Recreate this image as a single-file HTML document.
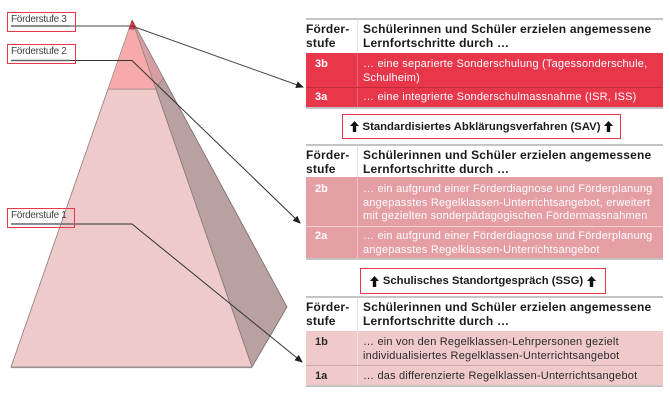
<!DOCTYPE html>
<html><head><meta charset="utf-8">
<style>
*{margin:0;padding:0;box-sizing:border-box}
body{width:670px;height:402px;background:#fff;position:relative;overflow:hidden;font-family:"Liberation Sans",Arial,sans-serif}
.abs{position:absolute}
.rule{position:absolute;left:306px;width:357px;height:2px;background:#c4c4c4}
.hdr{position:absolute;left:306px;width:357px;font-weight:bold;font-size:12px;letter-spacing:0.2px;line-height:13.5px;color:#1a1a1a}
.hdr .c1{position:absolute;left:0;top:4px;width:51px;white-space:nowrap}
.hdr .c2{position:absolute;left:57px;top:4px;white-space:nowrap}
.hdr .sep{position:absolute;left:51px;top:0;bottom:0;width:1px;background:#e2e2e2}
.row{position:absolute;left:306px;width:357px;font-size:11px;line-height:14px;letter-spacing:0.2px}
.row .n{position:absolute;left:9px;font-weight:bold;letter-spacing:0}
.row .t{position:absolute;left:57px;white-space:nowrap}
.row .sep{position:absolute;left:51px;top:0;bottom:0;width:1px}
.r3{background:#e8364b;color:#fff}
.r3 .sep{background:rgba(255,255,255,0.25)}
.r2{background:#e69ea5;color:#fff}
.r2 .sep{background:rgba(255,255,255,0.35)}
.r1{background:#f0caca;color:#2a2a2a}
.r1 .sep{background:rgba(255,255,255,0.5)}
.box{position:absolute;border:1.5px solid #e8364b;background:#fff;font-weight:bold;font-size:11.3px;color:#1a1a1a;white-space:nowrap;display:flex;align-items:center;justify-content:center}
.box svg{margin:0 4px}
.lbl{position:absolute;border:1.5px solid #e8364b;font-size:10px;letter-spacing:-0.3px;color:#444;padding-left:3px;line-height:14px}
</style></head><body>

<svg class="abs" style="left:0;top:0" width="670" height="402" viewBox="0 0 670 402">
<defs>
<marker id="ah" markerWidth="8" markerHeight="8" refX="7" refY="4" orient="auto" markerUnits="userSpaceOnUse">
<path d="M0,0.5 L8,4 L0,7.5 z" fill="#222"/>
</marker>
</defs>
<polygon points="132,20 287,307 252,367" fill="#b9a0a1" stroke="#7a6a6a" stroke-width="0.8"/>
<polygon points="132,20 163.3,78 155.9,89" fill="#d59ea2" stroke="#8a7070" stroke-width="0.6"/>
<polygon points="11,367 252,367 155.9,89 108,89" fill="#efcaca" stroke="#8a7a7a" stroke-width="0.8"/>
<polygon points="108,89 155.9,89 135.1,29 128.9,29" fill="#f7aaaa" stroke="#8a7a7a" stroke-width="0.6"/>
<polygon points="132,20 128.9,29 135.1,29" fill="#e8334a" stroke="#7a3a3a" stroke-width="0.5"/>
<polygon points="132,20 135.8,27 135.1,29" fill="#c42a3d"/>
<line x1="11" y1="367.5" x2="252" y2="367.5" stroke="#9a9090" stroke-width="1.3"/>
<polyline points="11,26 132,26 303,87" fill="none" stroke="#444" stroke-width="1" marker-end="url(#ah)"/>
<polyline points="11,60.5 132,60.5 300,223" fill="none" stroke="#333" stroke-width="1" marker-end="url(#ah)"/>
<polyline points="11,224 132,224 302,362" fill="none" stroke="#333" stroke-width="1" marker-end="url(#ah)"/>
<line x1="11" y1="26" x2="70" y2="26" stroke="#666" stroke-width="1.4"/>
<line x1="11" y1="60.5" x2="70" y2="60.5" stroke="#666" stroke-width="1.4"/>
<line x1="11" y1="224" x2="70" y2="224" stroke="#666" stroke-width="1.4"/>
</svg>

<div class="lbl" style="left:7px;top:12px;width:69px;height:20px">Förderstufe 3</div>
<div class="lbl" style="left:7px;top:44px;width:69px;height:20px">Förderstufe 2</div>
<div class="lbl" style="left:7px;top:208px;width:68px;height:20px">Förderstufe 1</div>

<div class="rule" style="top:18px"></div>
<div class="hdr" style="top:19px;height:34px"><div class="sep"></div><div class="c1">Förder-<br>stufe</div><div class="c2">Schülerinnen und Schüler erzielen angemessene<br>Lernfortschritte durch …</div></div>
<div class="row r3" style="top:53px;height:34px"><div class="sep"></div><div class="n" style="top:4px">3b</div><div class="t" style="top:4px">… eine separierte Sonderschulung (Tagessonderschule,<br>Schulheim)</div></div>
<div class="abs" style="left:306px;top:87px;width:357px;height:1px;background:#c02c3e"></div>
<div class="row r3" style="top:88px;height:19px"><div class="sep"></div><div class="n" style="top:2px">3a</div><div class="t" style="top:2px">… eine integrierte Sonderschulmassnahme (ISR, ISS)</div></div>
<div class="rule" style="top:107px;height:1.5px"></div>

<div class="box" style="left:342px;top:114px;width:279px;height:25px">
<svg width="9" height="11" viewBox="0 0 9 11"><path d="M4.5,0 L9,5 L6.2,5 L6.2,11 L2.8,11 L2.8,5 L0,5 z" fill="#111"/></svg>Standardisiertes Abklärungsverfahren (SAV)<svg width="9" height="11" viewBox="0 0 9 11"><path d="M4.5,0 L9,5 L6.2,5 L6.2,11 L2.8,11 L2.8,5 L0,5 z" fill="#111"/></svg>
</div>

<div class="rule" style="top:144px"></div>
<div class="hdr" style="top:145px;height:32px"><div class="sep"></div><div class="c1">Förder-<br>stufe</div><div class="c2">Schülerinnen und Schüler erzielen angemessene<br>Lernfortschritte durch …</div></div>
<div class="row r2" style="top:177px;height:49px;line-height:13.6px"><div class="sep"></div><div class="n" style="top:6px">2b</div><div class="t" style="top:6px">… ein aufgrund einer Förderdiagnose und Förderplanung<br>angepasstes Regelklassen-Unterrichtsangebot, erweitert<br>mit gezielten sonderpädagogischen Fördermassnahmen</div></div>
<div class="abs" style="left:306px;top:226px;width:357px;height:1px;background:#f3cfd2"></div>
<div class="row r2" style="top:227px;height:31px;line-height:13.6px"><div class="sep"></div><div class="n" style="top:3px">2a</div><div class="t" style="top:3px">… ein aufgrund einer Förderdiagnose und Förderplanung<br>angepasstes Regelklassen-Unterrichtsangebot</div></div>
<div class="rule" style="top:258px;height:1.5px"></div>

<div class="box" style="left:360px;top:268px;width:246px;height:26px">
<svg width="9" height="11" viewBox="0 0 9 11"><path d="M4.5,0 L9,5 L6.2,5 L6.2,11 L2.8,11 L2.8,5 L0,5 z" fill="#111"/></svg>Schulisches Standortgespräch (SSG)<svg width="9" height="11" viewBox="0 0 9 11"><path d="M4.5,0 L9,5 L6.2,5 L6.2,11 L2.8,11 L2.8,5 L0,5 z" fill="#111"/></svg>
</div>

<div class="rule" style="top:296px"></div>
<div class="hdr" style="top:297px;height:34px"><div class="sep"></div><div class="c1">Förder-<br>stufe</div><div class="c2">Schülerinnen und Schüler erzielen angemessene<br>Lernfortschritte durch …</div></div>
<div class="row r1" style="top:331px;height:34px"><div class="sep"></div><div class="n" style="top:4px">1b</div><div class="t" style="top:4px">… ein von den Regelklassen-Lehrpersonen gezielt<br>individualisiertes Regelklassen-Unterrichtsangebot</div></div>
<div class="abs" style="left:306px;top:365px;width:357px;height:1px;background:#c9a9a9"></div>
<div class="row r1" style="top:366px;height:19px"><div class="sep"></div><div class="n" style="top:3px">1a</div><div class="t" style="top:3px">… das differenzierte Regelklassen-Unterrichtsangebot</div></div>
<div class="rule" style="top:385px;height:1.5px"></div>

</body></html>
